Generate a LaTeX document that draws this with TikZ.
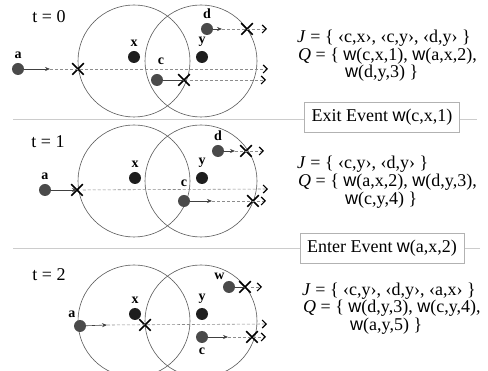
\documentclass[tikz,border=0pt]{standalone}
\usepackage{fontspec}
\setmainfont{Liberation Serif}
\newfontfamily\wfam{Liberation Sans}
\usetikzlibrary{shapes.misc,arrows.meta,positioning}
\definecolor{objgray}{HTML}{4A4A4A}
\definecolor{ptdark}{HTML}{1E1E1E}
\definecolor{rimgray}{HTML}{5A5A5A}
\definecolor{trackgray}{HTML}{8C8C8C}
\definecolor{sepgray}{HTML}{CCCCCC}
\newcommand{\wop}{{\wfam w}}
\tikzset{
  obj/.style    ={circle,fill=objgray,minimum size=12pt,inner sep=0pt},
  qpt/.style    ={circle,fill=ptdark,minimum size=12pt,inner sep=0pt},
  cross/.style  ={cross out,draw=black,line width=1.5pt,minimum size=10pt,inner sep=0pt},
  lbl/.style    ={font=\fontsize{14}{14}\selectfont\bfseries,inner sep=0pt},
  rimline/.style={draw=rimgray,line width=0.6pt},
  move/.style   ={draw=black!75,line width=0.6pt,-{Stealth[length=5pt,width=4pt]}},
  track/.style  ={draw=trackgray,dash pattern=on 3pt off 2pt,line width=0.6pt,
                  -{Straight Barb[length=4pt,width=8pt,color=black,line width=1.2pt]}},
  sepline/.style={draw=sepgray,line width=1pt},
  evbox/.style  ={draw=gray!60,fill=white,minimum height=30pt,inner xsep=7pt,
                  font=\fontsize{18}{18}\selectfont},
  settxt/.style ={anchor=base west,inner sep=0pt,font=\fontsize{18}{18}\selectfont},
  tlbl/.style   ={font=\fontsize{18}{18}\selectfont}
}

\begin{document}
\begin{tikzpicture}[x=1pt,y=-1pt]
  \useasboundingbox (0,0) rectangle (488,371);
  \clip (0,0) rectangle (488,371);

  % t = 0
  \node (t0) [tlbl] at (49,17) {t = 0};
  \draw [rimline] (134,61) circle[radius=56pt];
  \draw [rimline] (201,61) circle[radius=56pt];
  \node (x0) [qpt] at (134,57) {};
  \node (y0) [qpt] at (202,57) {};
  \node (a0) [obj] at (18,69)  {};
  \node (c0) [obj] at (157,80) {};
  \node (d0) [obj] at (207,29) {};
  \node [lbl, above=4pt of x0] {x};
  \node [lbl, above=4pt of y0] {y};
  \node [lbl, above=4pt of a0] {a};
  \node [lbl, above=9pt of c0, xshift=4pt] {c};
  \node [lbl, above=4pt of d0] {d};
  \coordinate (a0m) at (50,69);
  \coordinate (a0e) at (268,69);
  \coordinate (c0e) at (266,80);
  \coordinate (d0m) at (222,29);
  \coordinate (d0e) at (267,29);
  \node (xa0) [cross] at (78,69)  {};
  \node (xc0) [cross] at (184,80) {};
  \node (xd0) [cross] at (247,29) {};
  \draw [move]  (a0) -- (a0m);
  \draw [track] (a0m) -- (a0e);
  \draw [draw=black!75,line width=0.6pt] (c0) -- (xc0.center);
  \draw [track] (xc0) -- (c0e);
  \draw [move]  (d0) -- (d0m);
  \draw [track] (d0m) -- (d0e);
  \node (j0) [settxt] at (297,43) {\textit{J} = \{ ‹c,x›, ‹c,y›, ‹d,y› \}};
  \node (q0) [settxt] at (298,61) {\textit{Q} = \{ \wop(c,x,1), \wop(a,x,2),};
  \node (r0) [settxt] at (345,78) {\wop(d,y,3) \}};

  % exit event
  \coordinate (s1l) at (13,120);
  \coordinate (s1r) at (477,120);
  \draw [sepline] (s1l) -- (s1r);
  \node (ev1) [evbox] at (382,117) {Exit Event \wop(c,x,1)};

  % t = 1
  \node (t1) [tlbl] at (48,142) {t = 1};
  \draw [rimline] (134,181) circle[radius=56pt];
  \draw [rimline] (201,181) circle[radius=56pt];
  \node (x1) [qpt] at (135,178) {};
  \node (y1) [qpt] at (202,178) {};
  \node (a1) [obj] at (45,190)  {};
  \node (c1) [obj] at (184,201) {};
  \node (d1) [obj] at (218,151) {};
  \node [lbl, above=4pt of x1] {x};
  \node [lbl, above=4pt of y1] {y};
  \node [lbl, above=4pt of a1] {a};
  \node [lbl, above=8pt of c1] {c};
  \node [lbl, above=4pt of d1] {d};
  \coordinate (a1e) at (268,189);
  \coordinate (c1m) at (212,201);
  \coordinate (c1e) at (266,201);
  \coordinate (d1m) at (235,151);
  \coordinate (d1e) at (264,151);
  \node (xa1) [cross] at (77,190)  {};
  \node (xc1) [cross] at (253,201) {};
  \node (xd1) [cross] at (246,151) {};
  \draw [move]  (a1) -- (xa1.center);
  \draw [track] (xa1) -- (a1e);
  \draw [move]  (c1) -- (c1m);
  \draw [track] (c1m) -- (c1e);
  \draw [move]  (d1) -- (d1m);
  \draw [track] (d1m) -- (d1e);
  \node (j1) [settxt] at (297,169) {\textit{J} = \{ ‹c,y›, ‹d,y› \}};
  \node (q1) [settxt] at (298,187) {\textit{Q} = \{ \wop(a,x,2), \wop(d,y,3),};
  \node (r1) [settxt] at (345,205) {\wop(c,y,4) \}};

  % enter event
  \coordinate (s2l) at (13,249);
  \coordinate (s2r) at (480,249);
  \draw [sepline] (s2l) -- (s2r);
  \node (ev2) [evbox] at (382,248) {Enter Event \wop(a,x,2)};

  % t = 2
  \node (t2) [tlbl] at (49,275) {t = 2};
  \draw [rimline] (134,321) circle[radius=56pt];
  \draw [rimline] (201,321) circle[radius=56pt];
  \node (x2) [qpt] at (135,314) {};
  \node (y2) [qpt] at (202,314) {};
  \node (a2) [obj] at (80,326)  {};
  \node (c2) [obj] at (202,337) {};
  \node (w2) [obj] at (229,287) {};
  \node [lbl, above=4pt of x2] {x};
  \node [lbl, above=4pt of y2] {y};
  \node [lbl, above left=4pt and 0pt of a2] {a};
  \node [lbl, below=5pt of c2] {c};
  \node [lbl, above left=3pt and 0pt of w2] {w};
  \coordinate (a2m) at (107,325);
  \coordinate (a2e) at (267,324);
  \coordinate (c2m) at (228,337);
  \coordinate (c2e) at (266,337);
  \coordinate (w2e) at (262,287);
  \node (xa2) [cross] at (145,325) {};
  \node (xc2) [cross] at (252,337) {};
  \node (xw2) [cross] at (245,287) {};
  \draw [move]  (a2) -- (a2m);
  \draw [track] (a2m) -- (a2e);
  \draw [move]  (c2) -- (c2m);
  \draw [track] (c2m) -- (c2e);
  \draw [draw=black!75,line width=0.6pt] (w2) -- (xw2.center);
  \draw [track] (xw2) -- (w2e);
  \node (j2) [settxt] at (302,296) {\textit{J} = \{ ‹c,y›, ‹d,y›, ‹a,x› \}};
  \node (q2) [settxt] at (303,313) {\textit{Q} = \{ \wop(d,y,3), \wop(c,y,4),};
  \node (r2) [settxt] at (350,331) {\wop(a,y,5) \}};
\end{tikzpicture}
\end{document}
